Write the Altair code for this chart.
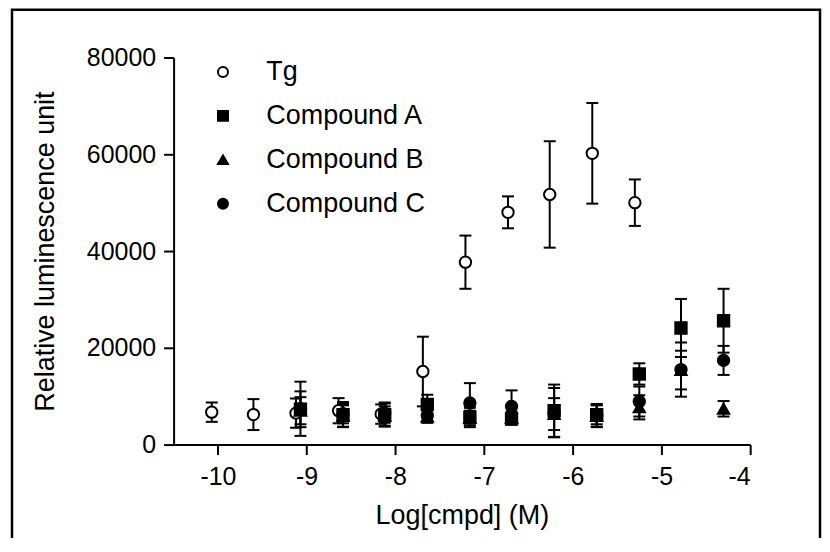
import altair as alt
import pandas as pd

series = ["Tg", "Compound A", "Compound B", "Compound C"]

tg_x = [-10.07, -9.60, -9.12, -8.64, -8.16, -7.69, -7.21, -6.73, -6.26, -5.78, -5.30]
tg_y = [6700, 6200, 6500, 7000, 6300, 15100, 37700, 48000, 51700, 60200, 50000]
tg_err = [2000, 3200, 3000, 2600, 2000, 7200, 5500, 3300, 11000, 10400, 4800]

cmp_x = [-9.07, -8.59, -8.12, -7.64, -7.16, -6.69, -6.21, -5.73, -5.25, -4.78, -4.30]
a_y = [7300, 6200, 6200, 8300, 5600, 5300, 7000, 6200, 14600, 24100, 25600]
a_err = [3700, 2600, 2500, 2000, 2000, 1200, 5400, 2000, 2200, 6000, 6600]
b_y = [7000, 5900, 5900, 5800, 5500, 5500, 6300, 5900, 7700, 15400, 7400]
b_err = [2800, 2200, 2000, 1200, 1500, 1300, 3300, 2200, 2500, 4000, 1600]
c_y = [7400, 6400, 6500, 6000, 8600, 7900, 6600, 6000, 8900, 15500, 17400]
c_err = [5600, 2000, 2000, 1500, 4100, 3300, 5100, 2400, 3100, 5600, 3000]

x_ticks = [-10, -9, -8, -7, -6, -5, -4]
y_ticks = [0, 20000, 40000, 60000, 80000]

rows = []
for name, xs, ys, es in [
    ("Tg", tg_x, tg_y, tg_err),
    ("Compound A", cmp_x, a_y, a_err),
    ("Compound B", cmp_x, b_y, b_err),
    ("Compound C", cmp_x, c_y, c_err),
]:
    for x, y, e in zip(xs, ys, es):
        rows.append({"series": name, "x": x, "y": y, "lo": y - e, "hi": y + e})
df = pd.DataFrame(rows)

FONT = "Liberation Sans"

xscale = alt.Scale(domain=[-10.5, -4], nice=False, zero=False)
yscale = alt.Scale(domain=[0, 80000], nice=False)

xaxis = alt.Axis(values=x_ticks, title="Log[cmpd] (M)", labelExpr="'' + datum.value",
                 labelPadding=10, titlePadding=13)
yaxis = alt.Axis(values=y_ticks, title="Relative luminescence unit", format="d",
                 labelPadding=8, titlePadding=27)

base = alt.Chart(df)

bars = base.mark_rule(color="black", strokeWidth=2).encode(
    x=alt.X("x:Q", scale=xscale, axis=xaxis),
    y=alt.Y("lo:Q", scale=yscale, axis=yaxis),
    y2="hi:Q",
)
cap_lo = base.mark_tick(orient="horizontal", size=12, thickness=2, color="black", opacity=1).encode(
    x="x:Q", y="lo:Q"
)
cap_hi = base.mark_tick(orient="horizontal", size=12, thickness=2, color="black", opacity=1).encode(
    x="x:Q", y="hi:Q"
)

legend = alt.Legend(title=None, orient="none", legendX=36, legendY=1)
points = base.mark_point(filled=True, size=130, strokeWidth=2, opacity=1).encode(
    x="x:Q",
    y="y:Q",
    shape=alt.Shape("series:N", scale=alt.Scale(domain=series,
                    range=["circle", "square", "triangle-up", "circle"]), legend=legend),
    fill=alt.Fill("series:N", scale=alt.Scale(domain=series,
                  range=["white", "black", "black", "black"]), legend=legend),
    stroke=alt.Stroke("series:N", scale=alt.Scale(domain=series,
                      range=["black", "black", "black", "black"]), legend=legend),
)

frame = alt.Chart(alt.Data(values=[{"a": 1}])).mark_rect(
    fillOpacity=0, stroke="black", strokeWidth=2.5, clip=False
).encode(
    x=alt.value(-162), x2=alt.value(648), y=alt.value(-48), y2=alt.value(520)
)

chart = alt.layer(frame, bars, cap_lo, cap_hi, points).properties(
    width=578, height=388,
    autosize=alt.AutoSizeParams(type="none"),
    padding={"left": 166, "top": 49, "right": 72, "bottom": 93},
).configure_view(stroke=None).configure_axis(
    grid=False, domainColor="black", domainWidth=2, tickColor="black", tickWidth=2,
    tickSize=10, labelFont=FONT, titleFont=FONT, labelFontSize=25, titleFontSize=27,
    labelColor="black", titleColor="black", titleFontWeight="normal",
).configure_legend(
    labelFont=FONT, labelFontSize=27, labelColor="black", symbolSize=100,
    symbolStrokeWidth=2, rowPadding=16, labelOffset=30,
    padding=0,
)

chart.save("out.html", embed_options={"renderer": "svg", "actions": False})
